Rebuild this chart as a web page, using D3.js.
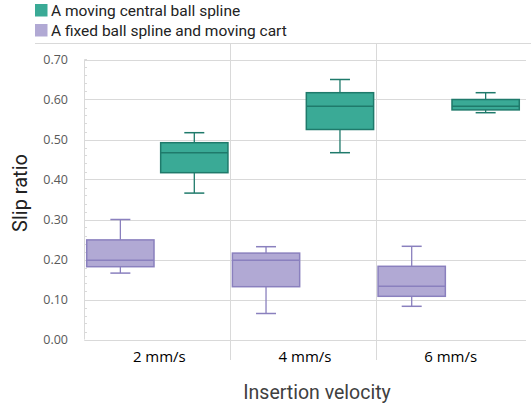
<!DOCTYPE html>
<html>
<head>
<meta charset="utf-8">
<script src="https://cdn.jsdelivr.net/npm/d3@7"></script>
<style>
  body { margin: 0; background: #fff; }
  svg { display: block; }
</style>
</head>
<body>
<svg id="chart" width="531" height="409"></svg>
<script>
// categories and series
var categories = ['2 mm/s', '4 mm/s', '6 mm/s'];
var seriesNames = ['A fixed ball spline and moving cart', 'A moving central ball spline'];
var legendOrder = ['A moving central ball spline', 'A fixed ball spline and moving cart'];
var seriesColors = { 'A moving central ball spline': ['#3aaa96', '#1f7a6b'],
                     'A fixed ball spline and moving cart': ['#b1a9d4', '#8a80be'] };

// box stats per category: [min, q1, median, q3, max]
var fixedCart = [
  [0.166, 0.182, 0.198, 0.249, 0.300],
  [0.065, 0.132, 0.198, 0.216, 0.232],
  [0.083, 0.108, 0.133, 0.183, 0.233]
];
var movingSpline = [
  [0.366, 0.417, 0.467, 0.492, 0.517],
  [0.467, 0.525, 0.583, 0.617, 0.650],
  [0.567, 0.574, 0.583, 0.600, 0.617]
];
var yTicks = [0, 0.1, 0.2, 0.3, 0.4, 0.5, 0.6, 0.7];

var svg = d3.select('#chart');
var gridColor = '#d9d9d9';

var x = d3.scaleBand().domain(categories).range([84.5, 521.5]).padding(0);
var xs = d3.scaleBand().domain(seriesNames).range([0, x.bandwidth()])
  .paddingInner(0.09).paddingOuter(0.03);
var y = d3.scaleLinear().domain([0, 0.7]).range([339.5, 59.5]);

// top separator line
svg.append('line').attr('x1', 35).attr('x2', 531).attr('y1', 43.5).attr('y2', 43.5)
  .attr('stroke', gridColor);

// horizontal gridlines
svg.append('g').selectAll('line').data(yTicks).join('line')
  .attr('x1', x.range()[0]).attr('x2', 526)
  .attr('y1', function(d) { return Math.round(y(d)) + 0.5; })
  .attr('y2', function(d) { return Math.round(y(d)) + 0.5; })
  .attr('stroke', gridColor);

// minor ticks on y axis
var minor = d3.range(0, 0.7001, 0.02);
svg.append('g').selectAll('line').data(minor).join('line')
  .attr('x1', x.range()[0]).attr('x2', x.range()[0] + 2.5)
  .attr('y1', function(d) { return Math.round(y(d)) + 0.5; })
  .attr('y2', function(d) { return Math.round(y(d)) + 0.5; })
  .attr('stroke', gridColor);

// left axis line
svg.append('line').attr('x1', 84.5).attr('x2', 84.5).attr('y1', y(0.7)).attr('y2', y(0))
  .attr('stroke', gridColor);

// category dividers
svg.append('g').selectAll('line').data(categories.slice(1)).join('line')
  .attr('x1', function(d) { return Math.round(x(d)) + 0.5; })
  .attr('x2', function(d) { return Math.round(x(d)) + 0.5; })
  .attr('y1', 43.5).attr('y2', 360)
  .attr('stroke', gridColor);

// y tick labels
svg.append('g').selectAll('text').data(yTicks).join('text')
  .attr('x', 68).attr('y', function(d) { return y(d) + 4.5; })
  .attr('text-anchor', 'end')
  .attr('font-family', 'Open Sans, sans-serif').attr('font-size', 12.5)
  .attr('fill', '#595959')
  .text(function(d) { return d.toFixed(2); });

// category labels
svg.append('g').selectAll('text').data(categories).join('text')
  .attr('x', function(d) { return x(d) + x.bandwidth() / 2 + 2; })
  .attr('y', 362)
  .attr('text-anchor', 'middle')
  .attr('font-family', 'Open Sans, sans-serif').attr('font-size', 15)
  .attr('font-weight', 500)
  .attr('fill', '#000')
  .text(function(d) { return d; });

// boxes
function drawBoxes(name, stats) {
  var fill = seriesColors[name][0], stroke = seriesColors[name][1];
  var g = svg.append('g');
  var bw = xs.bandwidth();
  categories.forEach(function(cat, i) {
    var s = stats[i];
    var x0 = x(cat) + xs(name);
    var cx = x0 + bw / 2;
    var cap = 10;
    // whiskers
    g.append('line').attr('x1', cx).attr('x2', cx).attr('y1', y(s[4])).attr('y2', y(s[3]))
      .attr('stroke', stroke).attr('stroke-width', 1.3);
    g.append('line').attr('x1', cx).attr('x2', cx).attr('y1', y(s[1])).attr('y2', y(s[0]))
      .attr('stroke', stroke).attr('stroke-width', 1.3);
    g.append('line').attr('x1', cx - cap).attr('x2', cx + cap).attr('y1', y(s[4])).attr('y2', y(s[4]))
      .attr('stroke', stroke).attr('stroke-width', 1.5);
    g.append('line').attr('x1', cx - cap).attr('x2', cx + cap).attr('y1', y(s[0])).attr('y2', y(s[0]))
      .attr('stroke', stroke).attr('stroke-width', 1.5);
    // box
    g.append('rect').attr('x', x0).attr('y', y(s[3]))
      .attr('width', bw).attr('height', y(s[1]) - y(s[3]))
      .attr('fill', fill).attr('stroke', stroke).attr('stroke-width', 1.5);
    // median
    g.append('line').attr('x1', x0).attr('x2', x0 + bw).attr('y1', y(s[2])).attr('y2', y(s[2]))
      .attr('stroke', stroke).attr('stroke-width', 1.5);
  });
}
drawBoxes('A fixed ball spline and moving cart', fixedCart);
drawBoxes('A moving central ball spline', movingSpline);

// axis titles
svg.append('text').attr('x', 317).attr('y', 399)
  .attr('text-anchor', 'middle')
  .attr('font-family', 'Roboto, sans-serif').attr('font-size', 19.5)
  .attr('fill', '#404040')
  .text('Insertion velocity');
svg.append('text')
  .attr('transform', 'translate(27,193) rotate(-90)')
  .attr('text-anchor', 'middle')
  .attr('font-family', 'Roboto, sans-serif').attr('font-size', 20)
  .attr('fill', '#222')
  .text('Slip ratio');

// legend
var leg = svg.append('g').selectAll('g').data(legendOrder).join('g')
  .attr('transform', function(d, i) { return 'translate(35,' + (4 + i * 20) + ')'; });
leg.append('rect').attr('width', 12.5).attr('height', 12.5)
  .attr('fill', function(d) { return seriesColors[d][0]; });
leg.append('text').attr('x', 16).attr('y', 12)
  .attr('font-family', 'Roboto, sans-serif').attr('font-size', 15.5)
  .attr('fill', '#222')
  .text(function(d) { return d; });
</script>
</body>
</html>
